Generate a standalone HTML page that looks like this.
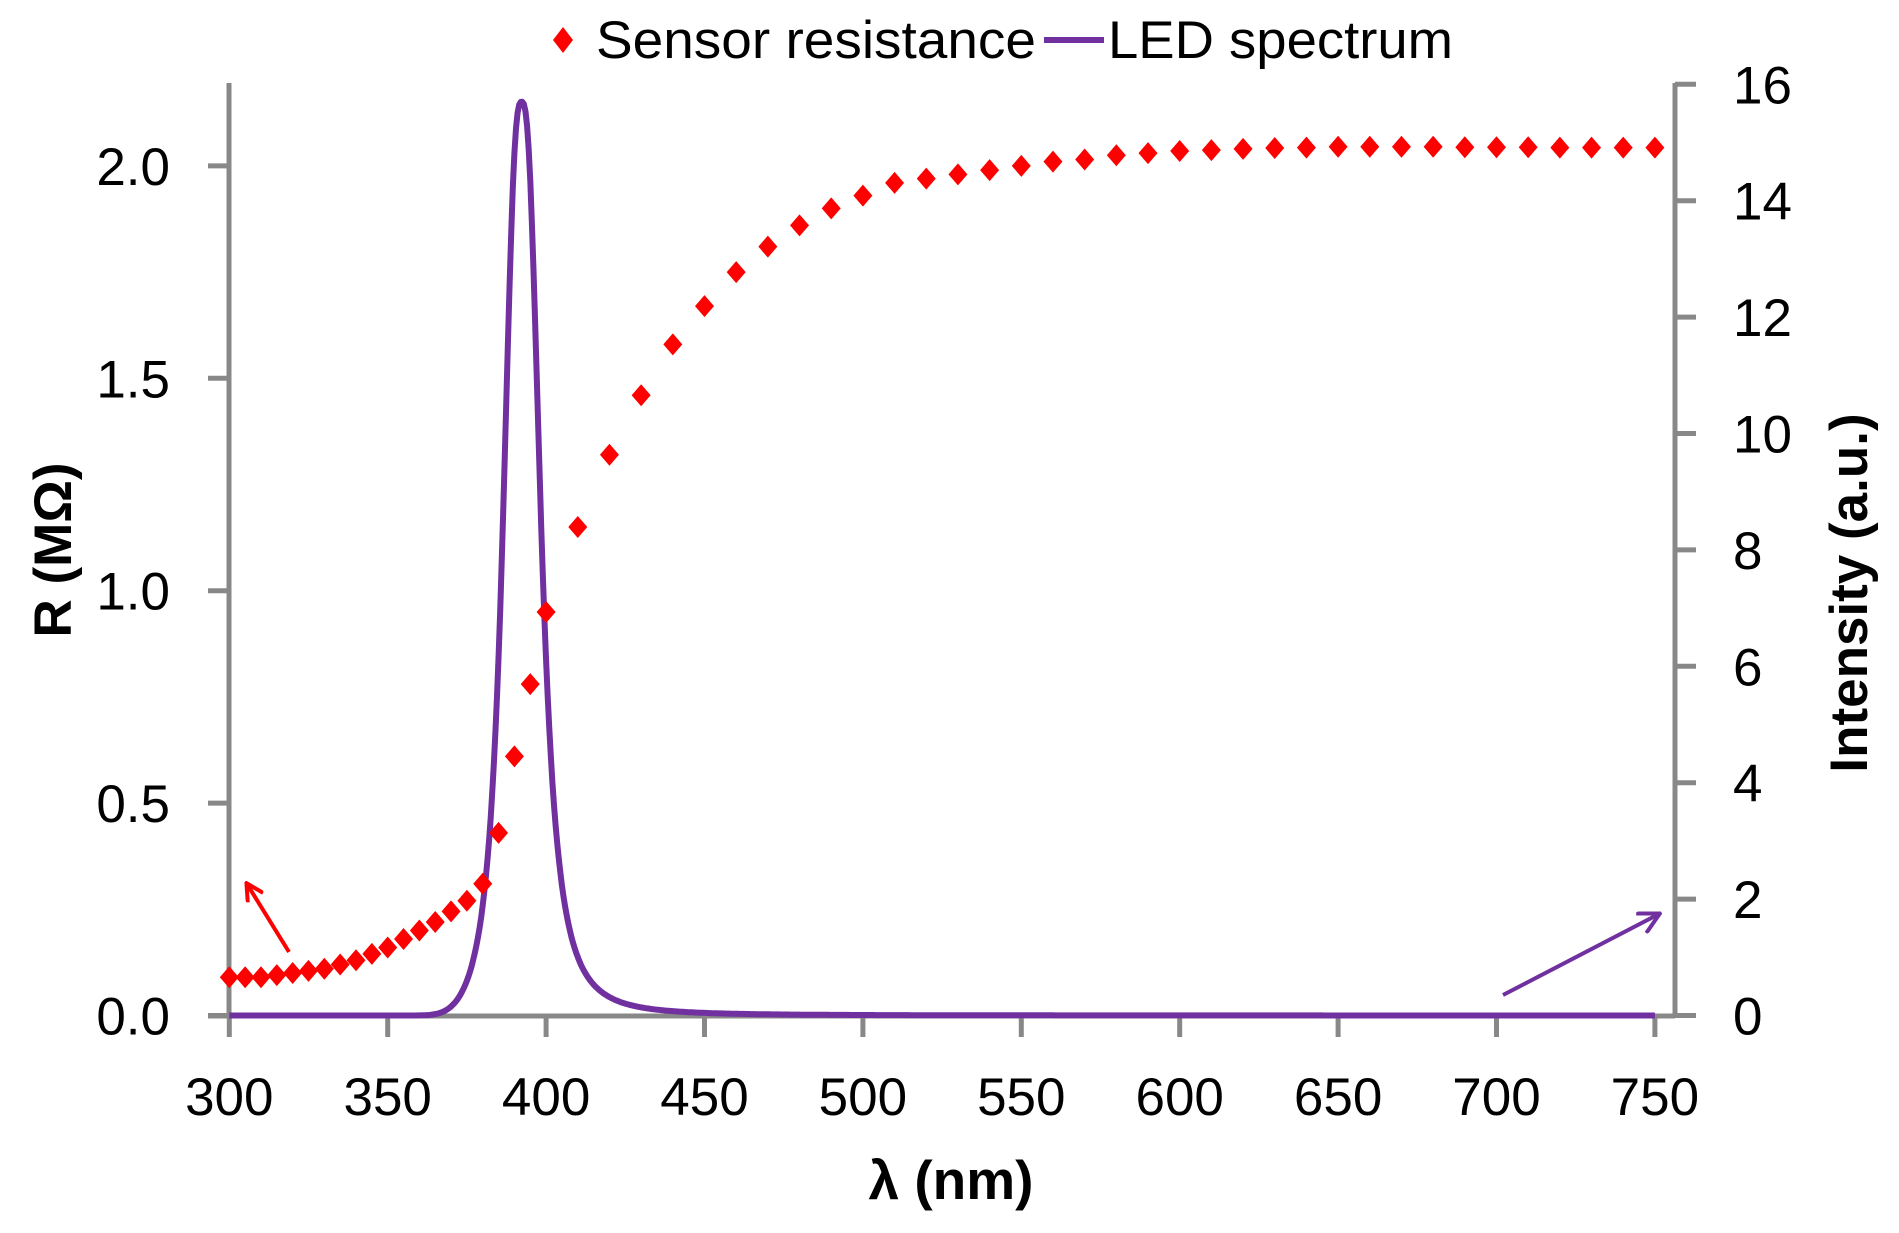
<!DOCTYPE html>
<html><head><meta charset="utf-8"><style>
html,body{margin:0;padding:0;background:#fff;}
svg{display:block;font-family:"Liberation Sans",sans-serif;}
</style></head><body>
<svg id="s" width="1899" height="1233" viewBox="0 0 1899 1233" xmlns="http://www.w3.org/2000/svg">
<defs>
<marker id="ar" markerWidth="20" markerHeight="20" refX="17" refY="10" orient="auto" markerUnits="userSpaceOnUse"><path d="M1,1 L18,10 L1,19" fill="none" stroke="#f00" stroke-width="4"/></marker>
<marker id="ap" markerWidth="24" markerHeight="24" refX="21" refY="12" orient="auto" markerUnits="userSpaceOnUse"><path d="M1,1 L22,12 L1,23" fill="none" stroke="#7030A0" stroke-width="4"/></marker>
</defs>
<g id="axes" stroke="#888" stroke-width="5" fill="none">
<line x1="229" y1="83" x2="229" y2="1016"/>
<line x1="1675" y1="83" x2="1675" y2="1016"/>
<line x1="208" y1="1016" x2="1675" y2="1016"/>
</g>
<g id="ticks" stroke="#888" stroke-width="5"></g>
<g id="labels" font-size="53" fill="#000"></g>
<path id="led" fill="none" stroke="#7030A0" stroke-width="6" stroke-linejoin="round"/>
<g id="pts" fill="#f00"></g>
<line x1="289" y1="952" x2="247" y2="884" stroke="#f00" stroke-width="4" marker-end="url(#ar)"/>
<line x1="1503" y1="995" x2="1659" y2="914" stroke="#7030A0" stroke-width="4" marker-end="url(#ap)"/>
<text x="57" y="550" font-size="53" font-weight="bold" text-anchor="middle" transform="rotate(-90 57 550)" dominant-baseline="middle">R (MΩ)</text>
<text x="1853" y="593" font-size="53" font-weight="bold" text-anchor="middle" transform="rotate(-90 1853 593)" dominant-baseline="middle">Intensity (a.u.)</text>
<text x="951" y="1199" font-size="55" font-weight="bold" text-anchor="middle">λ (nm)</text>
<path d="M563,27 L573,40 L563,53 L553,40Z" fill="#f00"/>
<text x="596" y="58" font-size="53" textLength="440" lengthAdjust="spacingAndGlyphs">Sensor resistance</text>
<line x1="1044" y1="40" x2="1104" y2="40" stroke="#7030A0" stroke-width="6"/>
<text x="1108" y="58" font-size="53" textLength="345" lengthAdjust="spacingAndGlyphs">LED spectrum</text>
</svg>
<script>
var NS="http://www.w3.org/2000/svg";
function X(n){return 229.3+(n-300)*3.168;}
function YL(v){return 1015.5-v*424.8;}
function YR(v){return 1015.5-v*58.2;}
function el(t,a,p,txt){var e=document.createElementNS(NS,t);for(var k in a)e.setAttribute(k,a[k]);if(txt!==undefined)e.textContent=txt;document.getElementById(p).appendChild(e);}
for(var n=300;n<=750;n+=50){el('line',{x1:X(n),y1:1016,x2:X(n),y2:1037},'ticks');el('text',{x:X(n),y:1115,'text-anchor':'middle'},'labels',String(n));}
for(var v=0;v<=2.0001;v+=0.5){el('line',{x1:208,y1:YL(v),x2:229,y2:YL(v)},'ticks');el('text',{x:170,y:YL(v)+19,'text-anchor':'end'},'labels',v.toFixed(1));}
for(var v=0;v<=16;v+=2){el('line',{x1:1675,y1:YR(v),x2:1696,y2:YR(v)},'ticks');el('text',{x:1733,y:YR(v)+19,'text-anchor':'start'},'labels',String(v));}
var d=[[300,.09],[305,.09],[310,.09],[315,.095],[320,.1],[325,.105],[330,.11],[335,.12],[340,.13],[345,.145],[350,.16],[355,.18],[360,.2],[365,.22],[370,.245],[375,.27],[380,.31],[385,.43],[390,.61],[395,.78],[400,.95],[410,1.15],[420,1.32],[430,1.46],[440,1.58],[450,1.67],[460,1.75],[470,1.81],[480,1.86],[490,1.9],[500,1.93],[510,1.96],[520,1.97],[530,1.98],[540,1.99],[550,2.0],[560,2.01],[570,2.015],[580,2.025],[590,2.03],[600,2.035],[610,2.037],[620,2.04],[630,2.042],[640,2.043],[650,2.045],[660,2.045],[670,2.045],[680,2.045],[690,2.044],[700,2.044],[710,2.044],[720,2.043],[730,2.043],[740,2.043],[750,2.043]];
d.forEach(function(p){var x=X(p[0]),y=YL(p[1]);el('path',{d:'M'+x+','+(y-11)+' L'+(x+9.5)+','+y+' L'+x+','+(y+11)+' L'+(x-9.5)+','+y+'Z'},'pts');});
var s='';
for(var n=300;n<=750;n+=0.5){var t=n-392.3,v;
 if(t<0){v=15.7/(1+Math.pow(-t/6.3,2.8))*Math.exp(-Math.pow(t/22,4));}
 else{v=15.7/(1+Math.pow(t/6.5,2.68));}
 s+=(s?'L':'M')+X(n).toFixed(1)+','+YR(v).toFixed(1);}
document.getElementById('led').setAttribute('d',s);
</script>
</body></html>
